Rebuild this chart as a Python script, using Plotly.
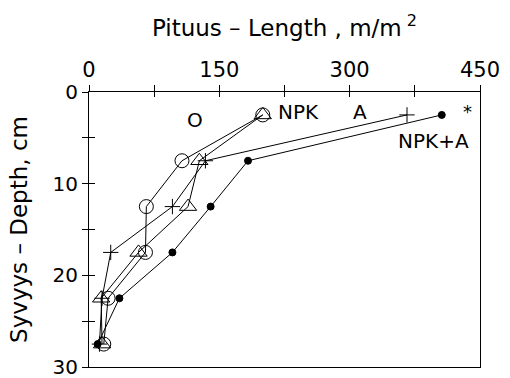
import plotly.graph_objects as go

# Data
depth = [2.5, 7.5, 12.5, 17.5, 22.5, 27.5]
len_O = [200, 107, 66, 65, 22, 17]        # open circles (O)
len_NPK = [200, 127, 114, 57, 14, 15]     # open triangles (NPK)
len_A = [366, 134, 96, 25, 15, 12]        # crosses (A)
len_NPKA = [406, 183, 140, 96, 35, 10]    # filled dots (NPK+A)

x_ticks = [0, 75, 150, 225, 300, 375, 450]
x_ticktext = ["0", "", "150", "", "300", "", "450"]
y_ticks = [0, 5, 10, 15, 20, 25, 30]
y_ticktext = ["0", "", "10", "", "20", "", "30"]

FONT = "DejaVu Sans"

fig = go.Figure()

def add_series(xs, sym, size, lw=1.0):
    fig.add_trace(go.Scatter(
        x=xs, y=depth, mode="lines+markers",
        line=dict(color="black", width=1),
        marker=dict(symbol=sym, size=size, color="black",
                    line=dict(color="black", width=lw)),
        showlegend=False, hoverinfo="skip"))

add_series(len_NPKA, "circle", 7)
add_series(len_A, "cross-thin-open", 11)
add_series(len_NPK, "triangle-up-open", 15)
add_series(len_O, "circle-open", 14)

# dummy trace for the overlay axes (inner tick marks)
fig.add_trace(go.Scatter(x=[None], y=[None], xaxis="x2", yaxis="y2",
                         showlegend=False, hoverinfo="skip"))

labels = [("O", 122, 3.1), ("NPK", 241, 2.2), ("A", 312, 2.2),
          ("NPK+A", 396, 5.3), ("*", 436, 2.1)]
for txt, xv, yv in labels:
    fig.add_annotation(x=xv, y=yv, text=txt, showarrow=False,
                       font=dict(family=FONT, size=20 if txt != "*" else 18,
                                 color="black"))

fig.update_layout(
    width=510, height=378, autosize=False,
    margin=dict(l=89, r=30, t=92, b=11),
    paper_bgcolor="white", plot_bgcolor="white",
    font=dict(family=FONT, color="black"),
    xaxis=dict(side="top", range=[0, 450], tickmode="array",
               tickvals=x_ticks, ticktext=x_ticktext,
               ticks="outside", ticklen=6, tickcolor="black",
               showline=True, linecolor="black", linewidth=1, mirror=True,
               showgrid=False, zeroline=False, automargin=False,
               ticklabeloverflow="allow",
               tickfont=dict(family=FONT, size=21, color="black"),
               title=dict(text="Pituus – Length , m/m<sup> 2</sup>",
                          font=dict(family=FONT, size=23, color="black"),
                          standoff=14)),
    yaxis=dict(range=[30, 0], tickmode="array",
               tickvals=y_ticks, ticktext=y_ticktext,
               ticks="outside", ticklen=6, tickcolor="black",
               showline=True, linecolor="black", linewidth=1, mirror=True,
               showgrid=False, zeroline=False, automargin=False,
               ticklabeloverflow="allow",
               tickfont=dict(family=FONT, size=20, color="black"),
               title=dict(text="Syvyys – Depth, cm",
                          font=dict(family=FONT, size=23, color="black"),
                          standoff=18)),
    xaxis2=dict(overlaying="x", side="top", range=[0, 450],
                tickmode="array", tickvals=x_ticks, showticklabels=False,
                ticks="inside", ticklen=5, tickcolor="black",
                showline=False, showgrid=False, zeroline=False),
    yaxis2=dict(overlaying="y", side="left", range=[30, 0],
                tickmode="array", tickvals=y_ticks, showticklabels=False,
                ticks="inside", ticklen=6, tickcolor="black",
                showline=False, showgrid=False, zeroline=False),
)

fig.write_html("out.html",
               config={"displayModeBar": False},
               post_script="document.body.style.margin='0';"
                           "document.body.style.padding='0';")
